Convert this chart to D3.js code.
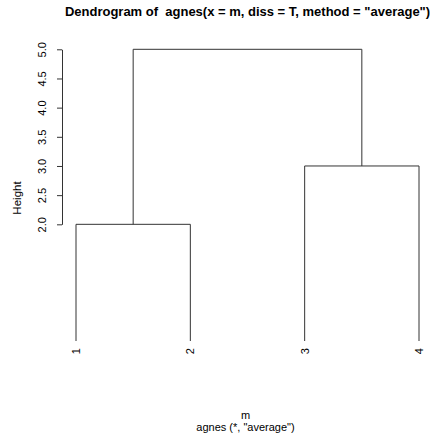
<!DOCTYPE html>
<html><head><meta charset="utf-8">
<script src="https://cdn.jsdelivr.net/npm/d3@7"></script>
<style>body{margin:0;background:#fff;} svg{display:block;font-family:"Liberation Sans",Arial,sans-serif;} text{white-space:pre;}</style>
</head><body>
<script>
// Data (R hclust-style merge matrix: negative = leaf, positive = earlier merge)
const leafLabels = ["1", "2", "3", "4"];
const mergeLeft  = [-1, -3, 1];
const mergeRight = [-2, -4, 2];
const mergeHeights = [2.0, 3.0, 5.0];
const yTicks = [2.0, 2.5, 3.0, 3.5, 4.0, 4.5, 5.0];
const titleText = 'Dendrogram of  agnes(x = m, diss = T, method = "average")';
const xLabel = "m";
const subLabel = 'agnes (*, "average")';
const yLabel = "Height";

const W = 430, H = 439;
const svg = d3.select("body").append("svg").attr("width", W).attr("height", H);

const x = d3.scalePoint().domain(leafLabels).range([76, 419]);
const y = d3.scaleLinear().domain([0, 5]).range([341, 49.3]);

// node positions
const nodeX = i => i < 0 ? x(leafLabels[-i - 1]) : mX[i - 1];
const nodeH = i => i < 0 ? 0 : mergeHeights[i - 1];
const mX = [];
const lineColor = "#333";
const g = svg.append("g").attr("fill", "none").attr("stroke", lineColor).attr("stroke-width", 1);
mergeLeft.forEach((l, k) => {
  const r = mergeRight[k];
  const xl = nodeX(l), xr = nodeX(r), h = mergeHeights[k];
  mX.push((xl + xr) / 2);
  const p = d3.path();
  p.moveTo(xl, y(nodeH(l)));
  p.lineTo(xl, y(h));
  p.lineTo(xr, y(h));
  p.lineTo(xr, y(nodeH(r)));
  g.append("path").attr("d", p.toString());
});

// Leaf labels
svg.append("g").selectAll("text").data(leafLabels).join("text")
  .attr("transform", d => `translate(${x(d)},348) rotate(-90)`)
  .attr("text-anchor", "end").attr("dy", "0.35em")
  .attr("font-size", 11).attr("fill", "#000").text(d => d);

// Y axis
const yAxisScale = y.copy().domain([2, 5]).range([y(2), y(5)]);
const ax = svg.append("g").attr("transform", "translate(62,0)")
  .call(d3.axisLeft(yAxisScale).tickValues(yTicks).tickFormat(d3.format(".1f")).tickSize(5).tickSizeOuter(0));
ax.select(".domain").attr("stroke", lineColor);
ax.selectAll(".tick line").attr("stroke", lineColor);
ax.selectAll(".tick text")
  .attr("x", 0).attr("y", 0).attr("dy", "0.35em")
  .attr("text-anchor", "middle")
  .attr("transform", "translate(-20,0) rotate(-90)")
  .attr("font-size", 11).attr("font-family", '"Liberation Sans",Arial,sans-serif').attr("fill", "#000");

// Labels
svg.append("text").attr("x", 247.5).attr("y", 16).attr("text-anchor", "middle")
  .attr("font-size", 13).attr("font-weight", "bold").attr("xml:space", "preserve").text(titleText);
svg.append("text").attr("transform", "translate(17,198) rotate(-90)").attr("text-anchor", "middle")
  .attr("dy", "0.35em").attr("font-size", 11.5).text(yLabel);
svg.append("text").attr("x", 245.5).attr("y", 419).attr("text-anchor", "middle")
  .attr("font-size", 11).text(xLabel);
svg.append("text").attr("x", 245.5).attr("y", 431).attr("text-anchor", "middle")
  .attr("font-size", 11).text(subLabel);
</script>
</body></html>
